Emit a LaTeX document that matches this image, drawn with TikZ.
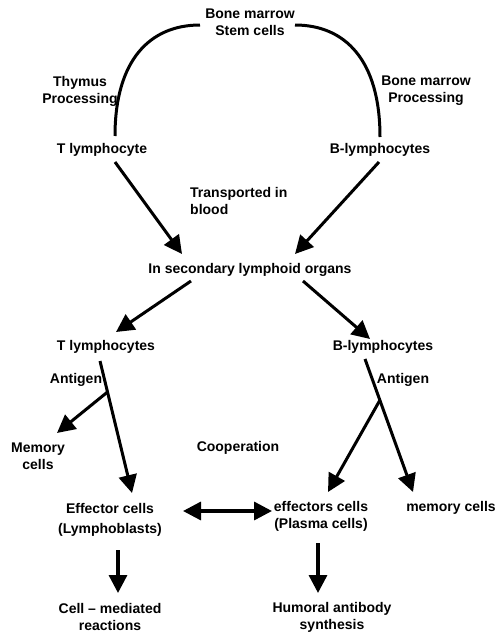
\documentclass[tikz,border=0pt]{standalone}
\usepackage{fontspec}
\setmainfont{Liberation Sans}
\usetikzlibrary{arrows.meta}
\begin{document}
\begin{tikzpicture}[x=1pt,y=-1pt,
  lbl/.style={inner sep=0pt,align=center,font=\fontsize{14}{17}\selectfont\bfseries},
  conn/.style={line width=3pt},
  arr/.style={line width=3pt,-{Triangle[length=18pt,width=18pt]}},
  darr/.style={line width=3.4pt,{Triangle[length=18pt,width=18pt]}-{Triangle[length=18pt,width=18pt]}}]
\useasboundingbox (0,0) rectangle (496,637);
% texts
\node[lbl] (bm) at (250,22) {Bone marrow\\Stem cells};
\node[lbl] (thy) at (80,91) {Thymus\\Processing};
\node[lbl] (bmp) at (426,91) {Bone marrow\\Processing};
\node[lbl] (tl) at (102,150) {T lymphocyte};
\node[lbl] (bl) at (380,150) {B-lymphocytes};
\node[lbl,anchor=west,align=left] (tr) at (190,201) {Transported in\\blood};
\node[lbl] (sec) at (250,270) {In secondary lymphoid organs};
\node[lbl] (tls) at (106,347) {T lymphocytes};
\node[lbl] (bls) at (383,347) {B-lymphocytes};
\node[lbl] (ag1) at (76,380) {Antigen};
\node[lbl] (ag2) at (403,380) {Antigen};
\node[lbl] (mem) at (38,456) {Memory\\cells};
\node[lbl] (coop) at (238,448) {Cooperation};
\node[lbl] (eff) at (110,508) {Effector cells};
\node[lbl] (lym) at (110,530) {(Lymphoblasts)};
\node[lbl] (pla) at (321,516) {effectors cells\\(Plasma cells)};
\node[lbl] (memc) at (451,508) {memory cells};
\node[lbl] (cmr) at (110,617) {Cell -- mediated\\reactions};
\node[lbl] (hum) at (332,617) {Humoral antibody\\synthesis};
% connector points
\coordinate (bmL) at (200,25);
\coordinate (bmR) at (295,25);
\coordinate (tlT) at (115,136);
\coordinate (blT) at (380,137);
\coordinate (tlB) at (115,162);
\coordinate (blB) at (379,162);
\coordinate (secTL) at (182,254);
\coordinate (secTR) at (295,254);
\coordinate (secBL) at (191,281);
\coordinate (secBR) at (303,281);
\coordinate (tlsT) at (116,332);
\coordinate (blsT) at (370,339);
\coordinate (tlsB) at (100,361);
\coordinate (tfork) at (107.5,392);
\coordinate (memT) at (57,433);
\coordinate (effT) at (132,493);
\coordinate (blsB) at (365,359);
\coordinate (bfork) at (380,400);
\coordinate (plaT) at (328,492);
\coordinate (memcT) at (413,492);
\coordinate (effR) at (183,511);
\coordinate (plaL) at (272,511);
\coordinate (lymB) at (118,550);
\coordinate (cmrT) at (118,593);
\coordinate (plaB) at (318,543);
\coordinate (humT) at (318,593);
% connectors
\draw[conn] (bmL) .. controls (150,25) and (115,60) .. (tlT);
\draw[conn] (bmR) .. controls (345,25) and (380,60) .. (blT);
\draw[arr] (tlB) -- (secTL);
\draw[arr] (blB) -- (secTR);
\draw[arr] (secBL) -- (tlsT);
\draw[arr] (secBR) -- (blsT);
\draw[arr] (tlsB) -- (effT);
\draw[arr] (tfork) -- (memT);
\draw[arr] (blsB) -- (memcT);
\draw[arr] (bfork) -- (plaT);
\draw[darr] (effR) -- (plaL);
\draw[arr,line width=3.4pt] (lymB) -- (cmrT);
\draw[arr,line width=3.4pt] (plaB) -- (humT);
\end{tikzpicture}
\end{document}
